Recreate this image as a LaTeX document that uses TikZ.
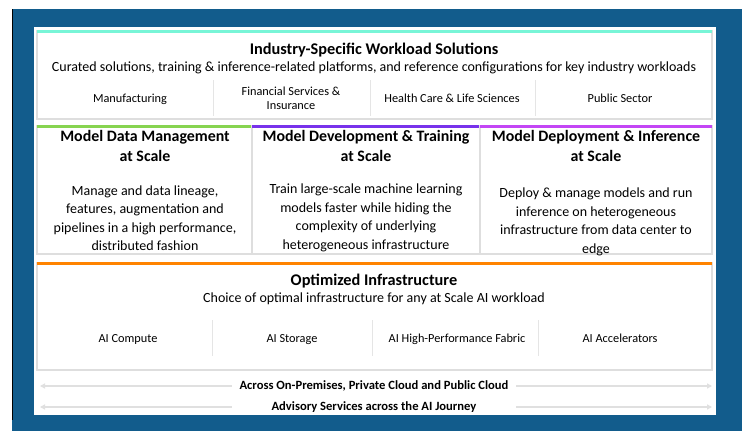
\documentclass[tikz,border=0pt]{standalone}
\usepackage{fontspec}
\setmainfont{Carlito}
\usetikzlibrary{positioning,arrows.meta}

\definecolor{hpeblue}{RGB}{18,92,140}
\definecolor{barteal}{RGB}{120,245,215}
\definecolor{bargreen}{RGB}{135,212,80}
\definecolor{barpurple}{RGB}{120,50,235}
\definecolor{barpink}{RGB}{195,70,245}
\definecolor{barorange}{RGB}{255,131,0}

\tikzset{
  frame/.style={draw=black!13, line width=1.6pt, fill=white},
  bar/.style={line width=3pt},
  sep/.style={draw=black!10, line width=0.8pt},
  title/.style={font=\bfseries\fontsize{16.3}{18}\selectfont},
  sub/.style={font=\fontsize{14}{16}\selectfont},
  item/.style={font=\fontsize{12.3}{14}\selectfont, align=center},
  head/.style={font=\bfseries\fontsize{15.9}{20}\selectfont, align=center},
  body/.style={font=\fontsize{14}{18.5}\selectfont, align=center},
  band/.style={font=\bfseries\fontsize{12.6}{14}\selectfont, minimum width=284pt, inner sep=0pt},
  arr/.style={draw=black!12, line width=1.2pt, -{Triangle[length=5pt,width=5pt]}}
}

\begin{document}
\begin{tikzpicture}[x=1pt,y=-1pt]
  \useasboundingbox (0,0) rectangle (742,431);
  % Background
  \fill[hpeblue] (12,9) rectangle (742,431);
  \draw[black, line width=0.8pt] (12,9) -- (12,420);
  \fill[white] (34,27) rectangle (716,415);

  % Industry box
  \draw[frame] (37,31) rectangle (712,119);
  \draw[bar, barteal] (37,31) -- (712,31);
  \node (ind) at (374,50) [title] {Industry-Specific Workload Solutions};
  \node (indsub) at (374,68) [sub] {Curated solutions, training \& inference-related platforms, and reference configurations for key industry workloads};
  \foreach \x in {213,370,535} {
    \draw[sep] (\x,80) -- (\x,116);
  }
  \foreach \x/\t [count=\i] in {130/Manufacturing, 452/{Health Care \& Life Sciences}, 620/Public Sector} {
    \node (cat\i) at (\x,102) [item, anchor=base] {\t};
  }
  \node (fin) at (291,98) [item] {Financial Services \&\\Insurance};

  % Model boxes
  \foreach \a/\b/\c in {37/252/bargreen, 252/480/barpurple, 480/712/barpink} {
    \draw[frame] (\a,126) rectangle (\b,254);
    \draw[bar, \c] (\a,126) -- (\b,126);
  }
  \node (data) at (145,146) [head] {Model Data Management\\at Scale};
  \node (dev) at (366,146) [head] {Model Development \& Training\\at Scale};
  \node (dep) at (596,146) [head] {Model Deployment \& Inference\\at Scale};
  \node (datatxt) at (145,218) [body] {Manage and data lineage,\\features, augmentation and\\pipelines in a high performance,\\distributed fashion};
  \node (devtxt) at (366,218) [body] {Train large-scale machine learning\\models faster while hiding the\\complexity of underlying\\heterogeneous infrastructure};
  \node (deptxt) at (596,222) [body] {Deploy \& manage models and run\\inference on heterogeneous\\infrastructure from data center to\\edge};

  % Infrastructure box
  \draw[frame] (37,263) rectangle (712,370);
  \draw[bar, barorange] (37,263) -- (712,263);
  \node (infra) at (374,281) [title] {Optimized Infrastructure};
  \node (infrasub) at (374,299) [sub] {Choice of optimal infrastructure for any at Scale AI workload};
  \foreach \x in {212,372,538} {
    \draw[sep] (\x,320) -- (\x,356);
  }
  \foreach \x/\t [count=\i] in {128/AI Compute, 292/AI Storage, 457/AI High-Performance Fabric, 620/AI Accelerators} {
    \node (ai\i) at (\x,342) [item, anchor=base] {\t};
  }

  % Bands
  \node (cloud) at (374,386) [band] {Across On-Premises, Private Cloud and Public Cloud};
  \node (advice) at (374,407) [band] {Advisory Services across the AI Journey};
  \coordinate (cloudl) at (40,386);
  \coordinate (cloudr) at (712,386);
  \coordinate (advicel) at (40,407);
  \coordinate (advicer) at (712,407);
  \draw[arr] (cloud.west) -- (cloudl);
  \draw[arr] (cloud.east) -- (cloudr);
  \draw[arr] (advice.west) -- (advicel);
  \draw[arr] (advice.east) -- (advicer);
\end{tikzpicture}
\end{document}
